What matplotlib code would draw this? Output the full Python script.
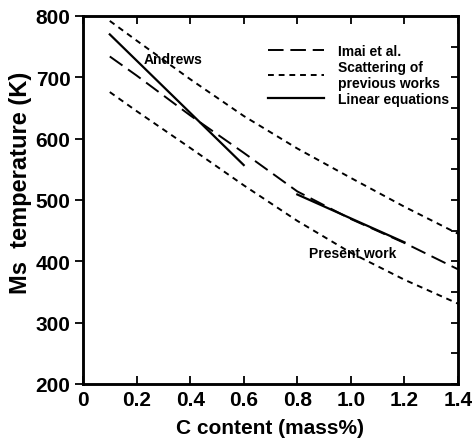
import matplotlib.pyplot as plt
from matplotlib.ticker import MultipleLocator

plt.rcParams['font.family'] = ['Liberation Sans', 'DejaVu Sans']

# Imai et al. (dashed)
imai_x = [0.1, 0.2, 0.4, 0.6, 0.8, 1.0, 1.2, 1.4]
imai_y = [734, 703, 638, 577, 514, 469, 430, 387]

# scattering of previous works (dotted bounds)
upper_x = [0.1, 0.2, 0.4, 0.6, 0.8, 1.0, 1.2, 1.4]
upper_y = [792, 760, 697, 637, 584, 536, 489, 445]
lower_x = [0.1, 0.2, 0.4, 0.6, 0.8, 1.0, 1.2, 1.4]
lower_y = [676, 645, 585, 524, 466, 414, 370, 331]

# linear equations (solid)
andrews_x = [0.1, 0.6]
andrews_y = [770, 557]
present_x = [0.8, 1.2]
present_y = [509, 431]

fig = plt.figure(figsize=(4.77, 4.39), dpi=100)
ax = fig.add_axes([83 / 477, 1 - 385 / 439, 375 / 477, 368 / 439])

lw = 1.4
ax.plot(imai_x, imai_y, color='black', lw=lw, dashes=(8, 3.5), label='Imai et al.')
ax.plot(upper_x, upper_y, color='black', lw=lw, dashes=(3, 2.5),
        label='Scattering of\nprevious works')
ax.plot(lower_x, lower_y, color='black', lw=lw, dashes=(3, 2.5))
ax.plot(andrews_x, andrews_y, color='black', lw=1.6, label='Linear equations')
ax.plot(present_x, present_y, color='black', lw=1.6)

ax.text(0.225, 730, 'Andrews', fontsize=10, fontweight='bold', va='center')
ax.text(0.845, 413, 'Present work', fontsize=10, fontweight='bold', va='center')

ax.set_xlim(0, 1.4)
ax.set_ylim(200, 800)
ax.set_xticks([0, 0.2, 0.4, 0.6, 0.8, 1.0, 1.2, 1.4])
ax.set_xticklabels(['0', '0.2', '0.4', '0.6', '0.8', '1.0', '1.2', '1.4'])
ax.yaxis.set_major_locator(MultipleLocator(100))
ax.tick_params(axis='x', direction='in', top=True, length=6, width=1.3,
               labelsize=15, pad=4)
ax.tick_params(axis='y', direction='out', right=False, length=6, width=1.3,
               labelsize=15, pad=3)
for lab in ax.get_xticklabels() + ax.get_yticklabels():
    lab.set_fontweight('bold')

# right side: inward ticks every 50 K
axr = ax.twinx()
axr.set_ylim(200, 800)
axr.yaxis.set_major_locator(MultipleLocator(50))
axr.tick_params(axis='y', direction='in', length=5, width=1.3, labelright=False)

for a in (ax, axr):
    for s in a.spines.values():
        s.set_linewidth(1.8)

ax.set_xlabel('C content (mass%)', fontsize=15, fontweight='bold', labelpad=7)
ax.set_ylabel('Ms  temperature (K)', fontsize=17, fontweight='bold')
ax.yaxis.set_label_coords(-0.136, 0.549)

leg = ax.legend(loc='upper right', bbox_to_anchor=(0.99, 0.94), frameon=False,
                prop={'size': 10, 'weight': 'bold'}, handlelength=4.0,
                handletextpad=1.0, labelspacing=0.15, borderaxespad=0)

fig.savefig('out.png', dpi=100)
